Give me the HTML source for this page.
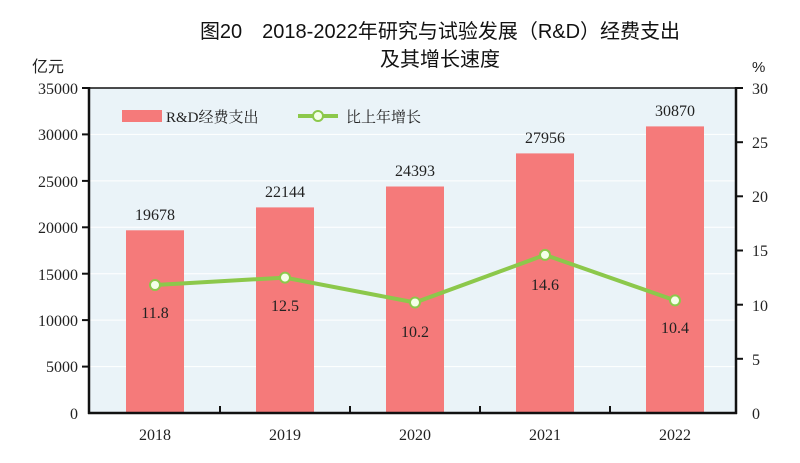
<!DOCTYPE html><html><head><meta charset="utf-8"><style>body{margin:0;background:#fff}svg{display:block}</style></head><body>
<svg width="800" height="463" xmlns="http://www.w3.org/2000/svg" font-family="'Liberation Serif','Noto Serif CJK SC',serif">
<rect width="800" height="463" fill="#fff"/>
<text x="440" y="38" font-size="20" text-anchor="middle" font-family="'Liberation Sans','Noto Sans CJK SC',sans-serif" fill="#111">图20　2018-2022年研究与试验发展（R&amp;D）经费支出</text>
<text x="440" y="66" font-size="20" text-anchor="middle" font-family="'Liberation Sans','Noto Sans CJK SC',sans-serif" fill="#111">及其增长速度</text>
<text x="32" y="72" font-size="16" font-family="'Liberation Sans','Noto Sans CJK SC',sans-serif" fill="#222">亿元</text>
<text x="752" y="72" font-size="15" font-family="'Liberation Sans',sans-serif" fill="#222">%</text>
<rect x="90" y="88" width="645" height="325" fill="#EAF3F8"/>
<g stroke="#fff" stroke-width="1">
<line x1="90" x2="735" y1="366.6" y2="366.6"/><line x1="90" x2="735" y1="320.1" y2="320.1"/><line x1="90" x2="735" y1="273.7" y2="273.7"/><line x1="90" x2="735" y1="227.3" y2="227.3"/><line x1="90" x2="735" y1="180.9" y2="180.9"/><line x1="90" x2="735" y1="134.4" y2="134.4"/>
</g>
<g fill="#F57A7A">
<rect x="126" y="230.3" width="58" height="182.7"/>
<rect x="256" y="207.4" width="58" height="205.6"/>
<rect x="386" y="186.5" width="58" height="226.5"/>
<rect x="516" y="153.4" width="58" height="259.6"/>
<rect x="646" y="126.4" width="58" height="286.6"/>
</g>
<rect x="122" y="110" width="40" height="12" fill="#F57A7A"/>
<text x="166" y="122" font-size="15" fill="#222">R&amp;D经费支出</text>
<line x1="298" x2="338" y1="116" y2="116" stroke="#8CC84B" stroke-width="4"/>
<circle cx="318" cy="116" r="5" fill="#F4FFE8" stroke="#8CC84B" stroke-width="2"/>
<text x="346" y="122" font-size="15" fill="#222">比上年增长</text>
<line x1="90" x2="735" y1="88" y2="88" stroke="#111" stroke-width="1.5"/>
<g stroke="#111" stroke-width="2.5" fill="none">
<line x1="89" y1="87" x2="89" y2="414"/><line x1="736" y1="87" x2="736" y2="414"/><line x1="88" y1="413" x2="737" y2="413"/>
</g>
<g stroke="#111" stroke-width="2">
<line x1="220" x2="220" y1="413" y2="406"/><line x1="350" x2="350" y1="413" y2="406"/><line x1="480" x2="480" y1="413" y2="406"/><line x1="610" x2="610" y1="413" y2="406"/>
<line x1="82" x2="89" y1="88" y2="88"/><line x1="82" x2="89" y1="134.4" y2="134.4"/><line x1="82" x2="89" y1="180.9" y2="180.9"/><line x1="82" x2="89" y1="227.3" y2="227.3"/><line x1="82" x2="89" y1="273.7" y2="273.7"/><line x1="82" x2="89" y1="320.1" y2="320.1"/><line x1="82" x2="89" y1="366.6" y2="366.6"/>
<line x1="736" x2="743" y1="88" y2="88"/><line x1="736" x2="743" y1="142.2" y2="142.2"/><line x1="736" x2="743" y1="196.3" y2="196.3"/><line x1="736" x2="743" y1="250.5" y2="250.5"/><line x1="736" x2="743" y1="304.7" y2="304.7"/><line x1="736" x2="743" y1="358.8" y2="358.8"/>
</g>
<g font-size="16" fill="#222" text-anchor="end">
<text x="78" y="94">35000</text><text x="78" y="140">30000</text><text x="78" y="187">25000</text><text x="78" y="233">20000</text><text x="78" y="280">15000</text><text x="78" y="326">10000</text><text x="78" y="372">5000</text><text x="78" y="419">0</text>
</g>
<g font-size="16" fill="#222" text-anchor="start">
<text x="752" y="94">30</text><text x="752" y="148">25</text><text x="752" y="202">20</text><text x="752" y="256">15</text><text x="752" y="311">10</text><text x="752" y="365">5</text><text x="752" y="419">0</text>
</g>
<g font-size="16" fill="#222" text-anchor="middle">
<text x="155" y="440">2018</text><text x="285" y="440">2019</text><text x="415" y="440">2020</text><text x="545" y="440">2021</text><text x="675" y="440">2022</text>
<text x="155" y="220">19678</text><text x="285" y="197">22144</text><text x="415" y="176">24393</text><text x="545" y="143">27956</text><text x="675" y="116">30870</text>
<text x="155" y="318">11.8</text><text x="285" y="311">12.5</text><text x="415" y="337">10.2</text><text x="545" y="290">14.6</text><text x="675" y="333">10.4</text>
</g>
<polyline points="155,285 285,277.6 415,302.5 545,254.9 675,300.4" fill="none" stroke="#8CC84B" stroke-width="4"/>
<g fill="#F4FFE8" stroke="#8CC84B" stroke-width="2">
<circle cx="155" cy="285" r="5"/><circle cx="285" cy="277.6" r="5"/><circle cx="415" cy="302.5" r="5"/><circle cx="545" cy="254.9" r="5"/><circle cx="675" cy="300.4" r="5"/>
</g>
</svg></body></html>
